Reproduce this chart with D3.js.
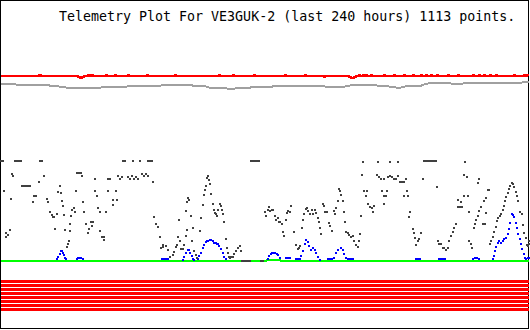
<!DOCTYPE html>
<html lang="en">
<head>
<meta charset="UTF-8">
<title>Telemetry Plot</title>
<style>
  body { margin: 0; background: #fff; }
  svg { display: block; }
  .title { font-family: "DejaVu Sans Mono", monospace; font-size: 13.3px; fill: #000; }
</style>
<script src="https://d3js.org/d3.v7.min.js"></script>
</head>
<body>
<script>
// title and time span
const station = "VE3GUK-2";
const spanHours = 240;
const pointCount = 1113;

// channel 1 (red) - [hours, value]
const redSeries = [[0,185],[17.3,186],[18.2,185],[35,184],[36.1,183],[36.8,184],[37.5,185],[39.5,186],[40,185],[40.5,186],[41,185],[41.4,186],[41.8,185],[47.7,186],[48.2,185],[51.8,186],[52.3,185],[57.7,186],[58.2,185],[66.4,186],[66.9,185],[79.1,186],[79.6,185],[99.1,186],[99.6,185],[105.5,186],[106,185],[115,186],[115.5,185],[129.1,186],[129.6,185],[138.2,186],[138.7,185],[146.8,184],[147.3,185],[158.2,184],[159.1,183],[160.5,184],[161.4,185],[162.7,186],[163.2,185],[164.5,186],[165,185],[165.9,186],[166.4,185],[168.2,186],[168.7,185],[174.1,186],[174.6,185],[178.6,186],[179.1,185],[183.2,186],[183.7,185],[187.3,186],[187.8,185],[190.9,186],[191.4,185],[193.2,186],[193.7,185],[195.5,186],[196,185],[198.2,186],[198.7,185],[203.2,186],[203.7,185],[207.7,186],[208.2,185],[214.5,186],[215,185],[217.3,186],[217.8,185],[219.5,186],[220,185],[222.3,186],[222.8,185],[225,186],[225.5,185],[233.2,186],[233.7,185],[237.7,186],[238.2,185],[239.1,186],[240,186]];

// channel 2 (grey)
const greySeries = [[0,177],[3.6,177.5],[6.8,176.5],[10,176],[13.6,176.5],[17.3,175.5],[20.5,176],[23.6,175],[26.4,174.5],[29.5,173.5],[32.7,173],[35.5,172.5],[38.6,173],[41.8,172.5],[45.5,173.5],[49.1,174],[52.3,174.5],[55.5,174],[59.1,175],[62.7,174.5],[65.9,175.5],[69.1,175],[72.7,175.5],[76.4,176],[79.5,175.5],[82.7,176.5],[85.5,176],[88.6,175],[91.8,175.5],[94.5,173.5],[97.7,172.5],[100.9,173],[104.5,172],[108.2,173],[111.4,172.5],[114.5,174],[118.2,174.5],[121.8,174],[125,175],[128.2,174.5],[131.8,175.5],[135.5,174.5],[138.6,175],[141.8,174.5],[145.5,175],[149.1,174],[152.7,173.5],[156.4,174.5],[160,176],[163.6,175.5],[167.3,176],[170.9,175.5],[174.5,175],[178.2,174],[180.9,173],[183.6,174.5],[187.3,175],[190,174.5],[192.7,177],[195.5,178],[199.1,177.5],[202.7,178],[206.4,177],[210,177.5],[213.6,178],[217.3,177.5],[220.9,178],[224.5,177.5],[228.2,178],[231.8,178.5],[235.5,178],[238.2,179],[240,179]];

// channel 3 (green)
const greenSeries = [[0,0],[120.5,0],[121.4,1.5],[126.4,1.5],[127.3,0],[240,0]];

// channel 4 (blue)
const blueSeries = [[25.5,2],[25.9,4],[26.8,7],[27.3,10],[27.7,10],[28.2,8],[28.6,6],[29.1,3],[29.5,2],
  [34.5,2],[35,3],[35.5,3],[36.4,3],[37.3,2],
  [73.2,2],[74.1,2],[75,2],[75.9,2],
  [82.7,1],[83.2,4],[84.1,8],[85,11],[85.5,11],[85.9,8],[86.8,5],[87.3,2],[87.7,1],
  [89.5,2],[90,5],[90.9,8],[91.8,13],[92.3,16],[93.2,19],[93.6,20],[94.1,20],[95,21],[95.5,21],[96.4,20],[96.8,18],[97.7,18],[98.2,17],[98.6,17],[99.1,15],[100,12],[100.9,8],[101.4,4],[102.3,2],
  [121.4,2],[121.8,5],[122.7,7],[123.2,8],[124.1,8],[124.5,8],[125.5,7],[125.9,6],[126.8,3],
  [129.5,3],[130.5,3],[131.4,3],
  [134.1,2],[135,2],[135.9,2],
  [136.4,5],[137.3,10],[138.2,17],[138.6,21],[139.5,19],[140,15],[140.9,11],[141.8,13],[142.7,11],[143.2,8],[144.1,4],[145,1],
  [148.6,2],[149.5,2],[150.5,2],
  [151.4,3],[152.3,8],[153.2,11],[154.5,13],[155.5,11],[155.9,7],[156.8,3],
  [157.7,2],[158.6,2],[159.5,2],[160,2],
  [188.6,2],[189.5,2],[190.5,2],
  [199.1,2],[200,2],[200.9,2],[201.8,2],
  [214.5,2],[215.5,3],[216.4,3],[217.3,2],
  [223.6,2],[224.1,5],[224.5,10],[225,14],[225.9,18],[226.4,20],[227.3,18],[228.2,20],[228.6,22],[229.5,23],[230.5,27],[230.9,32],[231.4,38],[232.3,47],[232.7,46],[233.2,44],[234.1,38],[234.5,33],[235,27],[235.9,22],[236.4,17],[236.8,12],[237.7,7],[238.2,3],[238.6,2],[239.5,3],[240,3]];

// channel 5 (dark grey scatter)
const darkSeries = [
  [0,100],[0.9,100],[6.4,100],[7.3,100],[8.2,100],[9.1,100],[17.7,100],[18.6,100],[55.5,100],[56.4,100],[60,100],[63.2,100],[66.8,100],[67.7,100],[68.6,100],
  [113.6,100],[114.5,100],[115.5,100],[116.4,100],[117.3,100],
  [192.3,100],[193.2,100],[194.1,100],[195,100],[195.9,100],[196.8,100],[197.7,100],
  [164.5,99],[171.4,99],[176.8,99],[180.5,99],[210.9,99],
  [5,87],[5.5,85],[19.5,85],[34.5,88],[35.5,88],[36.4,88],[36.8,85],[42.7,82],[48.6,82],[49.5,82],
  [53.2,85],[54.1,82],[55,84],[57.7,84],[58.6,82],[59.5,85],[60.5,82],[61.4,84],[62.3,82],
  [64.1,87],[65,85],[65.9,87],[66.8,85],[69.1,79],[17.3,79],
  [9.5,75],[10.5,75],[11.4,75],[12.3,75],[13.2,75],[26.8,75],
  [1.4,70],[15,65],[15.9,65],[25.9,69],[27.3,68],[34.1,70],[42.7,70],[43.6,65],[48.6,70],[52.3,70],
  [4.5,62],[14.5,59],[20.9,62],[21.4,59],[27.7,60],[28.2,55],[37.3,59],[50.9,61],[52.7,61],[50.9,56],[44.1,53],
  [32.3,51],[33.2,53],[22.3,49],[23.2,46],[23.6,44],[24.1,44],[25.5,47],[28.6,46],[31.8,45],[33.6,49],[37.7,49],[45,49],[47.7,49],[69.5,44],
  [31.4,37],[38.6,37],[40.9,39],[41.8,39],[41.4,35],[40,32],[39.5,28],[70.5,37],[71.4,34],[80.9,41],
  [24.5,32],[29.1,31],[31.4,30],[45,30],[2.3,28],[3.2,26],[2.3,24],[4.1,31],[45.9,24],[46.8,24],[46.8,21],[80.5,24],
  [30.9,20],[30.5,17],[30,14],[72.3,24],[73.6,16],[74.9,15],[72.7,13],[75.8,11],[73.5,14],
  [81.4,20],[80,16],[79.5,14],[78.6,9],[78.2,6],[76.8,4],
  [81.8,12],[82.7,12],[83.2,16],[84.1,25],[84.5,31],[84.1,50],[84.5,59],[85,63],[85.5,61],[86.4,45],[87.3,33],[86.8,20],
  [87.7,10],[88.6,6],[89.1,3],[90.5,30],[90.9,43],[91.8,56],[92.3,66],[92.7,71],[93.2,75],
  [93.6,83],[94.1,85],[94.5,81],[95,77],[95.5,67],[96.4,57],[96.8,51],[97.3,48],[97.7,47],[98.2,45],
  [98.6,51],[99.5,57],[100,55],[100.5,51],[100.9,47],[101.4,39],[102.3,22],[102.7,13],[103.2,8],[104.1,3],
  [103.6,4],[104.5,4],[105.5,4],[105.9,7],[106.8,10],[107.7,13],[108.6,15],[109.1,10],
  [109.5,0],[110.5,0],[111.4,0],[112.3,0],[113.2,0],[118.2,0],[119.1,0],
  [120,49],[120.5,45],[121.4,51],[121.8,54],[122.3,50],[123.2,51],[123.6,51],
  [124.5,45],[125,41],[125.9,43],[126.4,39],[126.8,39],[127.7,37],[128.2,29],[128.6,25],
  [129.5,41],[130,48],[130.5,50],[131.4,49],[131.8,55],
  [133.2,29],[134.1,16],[135,12],[135.5,13],[135.9,15],
  [136.8,33],[137.3,41],[137.7,47],[138.6,52],[139.1,53],
  [139.5,50],[140.5,47],[141.4,51],[141.8,47],[142.7,51],[143.2,48],[144.1,43],
  [144.5,39],[145,33],[145.5,27],[146.4,57],[146.8,55],[147.3,49],[148.2,49],
  [149.1,38],[149.5,35],[150.5,30],[151.4,50],[151.8,47],
  [152.3,53],[153.2,60],[153.6,72],[154.1,70],[154.5,66],[155.5,60],[155.9,49],[156.4,39],
  [156.8,29],[157.7,28],[158.2,26],[159.1,24],[160,25],[160.5,20],[161.4,16],[162.3,14],[162.7,20],[163.2,27],
  [164.1,86],[170.9,86],[171.8,84],[172.7,82],[174.1,82],[175.9,84],[176.8,85],[177.7,84],[178.6,82],[179.5,82],[180.5,85],[181.4,79],[182.3,79],[183.2,79],[184.1,82],[191.8,82],
  [165,70],[166.4,70],[165.9,65],[173.2,70],[175.5,70],[175,65],[174.1,65],
  [166.8,57],[167.7,54],[168.6,53],[169.5,55],[169.1,49],[174.1,57],[183.2,65],[185,65],[184.5,70],[185.9,49],[185.5,44],[163.6,45],
  [187.3,32],[187.7,28],[188.2,23],[188.6,16],[189.5,20],[190,22],[190.9,28],
  [198.2,74],[210.5,86],[211.8,84],[217.3,82],[216.8,78],[221.8,71],[210.5,65],[212.3,65],
  [207.7,61],[209.1,59],[208.6,54],[207.7,54],[209.5,54],[212.7,49],
  [198.6,20],[199.1,17],[200,17],[200.9,13],[201.4,13],[202.3,11],[203.2,13],[203.6,20],[204.5,25],[205.5,29],[205.9,33],[206.8,37],
  [212.7,20],[213.6,17],[214.1,13],
  [215,33],[215.5,37],[215.9,41],[216.8,45],[217.3,50],[218.2,54],[219.5,60],[220.5,63],[221.4,71],
  [219.1,37],[220,37],[220.5,48],
  [222.3,17],[222.7,20],[223.6,24],[224.1,29],[225,34],[225.5,40],[225.9,43],[226.8,45],[227.3,47],[228.2,51],[228.6,55],[229.1,60],[229.5,64],[230.5,68],[230.9,72],[231.4,75],[232.3,78],[232.7,77],[233.2,74],[234.1,69],[234.5,65],[235,60],[235.9,49],[236.8,47],[237.3,36],[237.7,28],[238.6,23],[239.1,16],[239.5,15],[240,17],[240,20]
];

// status bits (all set over the period)
const bitNames = ["B1", "B2", "B3", "B4", "B5", "B6", "B7", "B8"];
const bitValues = [1, 1, 1, 1, 1, 1, 1, 1];

const width = 530, height = 330;

const svg = d3.select("body").append("svg")
    .attr("width", width)
    .attr("height", height)
    .attr("shape-rendering", "crispEdges");

// frame
svg.append("rect")
    .attr("x", 0.5).attr("y", 0.5)
    .attr("width", 528).attr("height", 328)
    .attr("fill", "#fff").attr("stroke", "#000");

svg.append("text")
    .attr("class", "title")
    .attr("x", 59).attr("y", 21)
    .text(`Telemetry Plot For ${station} (last ${spanHours} hours) ${pointCount} points.`);

const x = d3.scaleLinear().domain([0, spanHours]).range([1, 529]);
const y = d3.scaleLinear().domain([0, 100]).range([261, 161]);
const yBits = d3.scalePoint().domain(bitNames).range([281.5, 309.5]);

// status bit stripes
svg.append("g").selectAll("line")
    .data(bitNames.filter((d, i) => bitValues[i] === 1))
    .enter().append("line")
    .attr("x1", x(0)).attr("x2", x(spanHours))
    .attr("y1", d => yBits(d)).attr("y2", d => yBits(d))
    .attr("stroke", "#ff0000")
    .attr("stroke-width", 3);

const line = d3.line().x(d => x(d[0])).y(d => y(d[1]));

svg.append("path")
    .datum(redSeries)
    .attr("d", line.curve(d3.curveStepAfter))
    .attr("fill", "none").attr("stroke", "#ff0000").attr("stroke-width", 2);

svg.append("path")
    .datum(greySeries)
    .attr("d", line.curve(d3.curveLinear))
    .attr("fill", "none").attr("stroke", "#a0a0a0").attr("stroke-width", 2);

svg.append("path")
    .datum(greenSeries)
    .attr("d", line.curve(d3.curveLinear))
    .attr("fill", "none").attr("stroke", "#00ff00").attr("stroke-width", 2);

function dots(data, color) {
    svg.append("g").selectAll("rect")
        .data(data)
        .enter().append("rect")
        .attr("x", d => x(d[0]) - 1)
        .attr("y", d => y(d[1]) - 1)
        .attr("width", 2)
        .attr("height", 2)
        .attr("fill", color);
}

dots(blueSeries, "#0000ff");
dots(darkSeries, "#404040");
</script>
</body>
</html>
